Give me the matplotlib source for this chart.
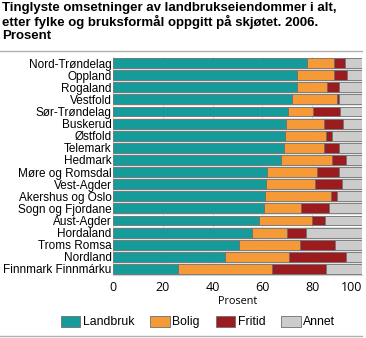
import matplotlib
matplotlib.use("Agg")
import matplotlib.pyplot as plt
from matplotlib.lines import Line2D
import numpy as np

# (percent of transactions)
fylker = [
    "Nord-Trøndelag", "Oppland", "Rogaland", "Vestfold", "Sør-Trøndelag",
    "Buskerud", "Østfold", "Telemark", "Hedmark", "Møre og Romsdal",
    "Vest-Agder", "Akershus og Oslo", "Sogn og Fjordane", "Aust-Agder",
    "Hordaland", "Troms Romsa", "Nordland", "Finnmark Finnmárku",
]
landbruk = [78.0, 74.0, 73.7, 71.9, 70.4, 69.3, 69.1, 68.7, 67.5, 61.7,
            61.6, 61.2, 60.8, 58.8, 55.7, 50.7, 45.1, 26.0]
bolig = [10.7, 14.7, 12.2, 18.0, 10.0, 15.5, 16.4, 16.1, 20.5, 20.3,
         19.7, 26.3, 14.9, 21.1, 14.0, 24.6, 25.6, 37.9]
fritid = [4.5, 5.3, 4.9, 0.9, 10.8, 7.5, 2.5, 6.1, 5.6, 8.8,
          10.8, 2.5, 11.1, 5.3, 7.8, 13.8, 22.8, 21.7]
annet = [100 - a - b - c for a, b, c in zip(landbruk, bolig, fritid)]

serier = ["Landbruk", "Bolig", "Fritid", "Annet"]
farger = ["#169b9b", "#f59a36", "#9b1b1f", "#cccccc"]

plt.rcParams["font.family"] = ["Liberation Sans", "DejaVu Sans"]

fig = plt.figure(figsize=(3.66, 3.38), dpi=100)
ax = fig.add_axes([113 / 366, 1 - 275 / 338, 249 / 366, 218 / 338])

y = np.arange(len(fylker))
left = np.zeros(len(fylker))
for navn, verdier, farge in zip(serier, [landbruk, bolig, fritid, annet], farger):
    ax.barh(y, verdier, left=left, height=0.82, color=farge,
            edgecolor="#6e6e6e", linewidth=0.6, label=navn, zorder=3)
    left += np.array(verdier)

ax.set_xlim(0, 100)
ax.set_ylim(len(fylker) - 0.5, -0.5)
ax.set_yticks(y)
ax.set_yticklabels(fylker, fontsize=8.5)
ax.set_yticks(np.arange(len(fylker) - 1) + 0.5, minor=True)
ax.set_xticks([0, 20, 40, 60, 80, 100])
ax.tick_params(axis="x", labelsize=9, length=0, pad=4)
ax.tick_params(axis="y", which="both", length=0, pad=1)
for lab in ax.get_xticklabels():
    lab.set_family(["Open Sans", "DejaVu Sans"])
ax.get_xticklabels()[-1].set_ha("right")
ax.set_xlabel("Prosent", fontsize=7.8, family=["Open Sans", "DejaVu Sans"], labelpad=2)
ax.grid(axis="x", color="#d0d0d0", linewidth=0.6, zorder=0)
ax.grid(axis="y", which="minor", color="#dddddd", linewidth=0.6, zorder=0)
for s in ["top", "right", "left"]:
    ax.spines[s].set_visible(False)
ax.spines["bottom"].set_color("#d0d0d0")

fig.text(2 / 366, 1 - 2 / 338,
         "Tinglyste omsetninger av landbrukseiendommer i alt,\n"
         "etter fylke og bruksformål oppgitt på skjøtet. 2006.\nProsent",
         ha="left", va="top", fontsize=9.5, fontweight="bold", linespacing=1.12)

fig.legend(loc="center", bbox_to_anchor=(198 / 366, 1 - 322 / 338), ncol=4,
           frameon=False, fontsize=8.8, handlelength=1.6, handleheight=1.0,
           columnspacing=1.3, handletextpad=0.2)

fig.add_artist(Line2D([0, 362 / 366], [1 - 51 / 338] * 2, color="#b0b0b0", linewidth=1))
fig.add_artist(Line2D([0, 362 / 366], [1 - 336 / 338] * 2, color="#b0b0b0", linewidth=1))

fig.savefig("out.png", dpi=100)
